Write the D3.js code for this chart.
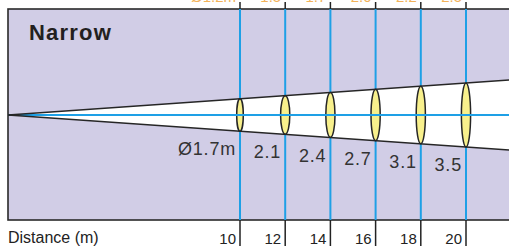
<!DOCTYPE html>
<html>
<head>
<meta charset="utf-8">
<script src="https://cdn.jsdelivr.net/npm/d3@7"></script>
<style>
  html, body { margin: 0; padding: 0; background: #fff; }
  svg { display: block; font-family: "Liberation Sans", Arial, sans-serif; }
</style>
</head>
<body>
<div id="chart"></div>
<script>
// distances (m) where the beam is measured, and the spot diameter there
var distances = [10, 12, 14, 16, 18, 20];
var diameters = ["\u00d81.7m", "2.1", "2.4", "2.7", "3.1", "3.5"];
// labels of the chart above, only their lower edge is visible
var topLabels = ["\u00d81.2m", "1.5", "1.7", "2.0", "2.2", "2.5"];
var title = "Narrow";
var axisTitle = "Distance (m)";

var W = 509, H = 246;
var box = {left: 8, top: 9, bottom: 220};
var cy = 115;          // beam axis
var spread = 35 / 501; // beam half width per px of run

var svg = d3.select("#chart")
    .append("svg")
    .attr("width", W)
    .attr("height", H);

// distance scale
var x = d3.scaleLinear()
    .domain([10, 20])
    .range([240, 466]);

function half(px) { return (px - box.left) * spread; }

// background box
svg.append("rect")
    .attr("x", box.left)
    .attr("y", box.top)
    .attr("width", W + 10 - box.left)
    .attr("height", box.bottom - box.top)
    .attr("fill", "#d1cde6")
    .attr("stroke", "#2a2a2a")
    .attr("stroke-width", 1.6);

// beam cone
var xr = W + 5;
svg.append("path")
    .attr("d", "M" + box.left + "," + cy + "L" + xr + "," + (cy - half(xr)) +
        "L" + xr + "," + (cy + half(xr)) + "Z")
    .attr("fill", "#fff");

// vertical distance lines
svg.selectAll(".vline")
    .data(distances)
    .enter().append("line")
    .attr("x1", d => x(d)).attr("x2", d => x(d))
    .attr("y1", box.top).attr("y2", box.bottom)
    .attr("stroke", "#1ea0e6")
    .attr("stroke-width", 2);

// ticks above and below the box
svg.selectAll(".tickTop")
    .data(distances)
    .enter().append("line")
    .attr("x1", d => x(d)).attr("x2", d => x(d))
    .attr("y1", 2).attr("y2", box.top)
    .attr("stroke", "#222")
    .attr("stroke-width", 1.5);
svg.selectAll(".tickBot")
    .data(distances)
    .enter().append("line")
    .attr("x1", d => x(d)).attr("x2", d => x(d))
    .attr("y1", box.bottom).attr("y2", H)
    .attr("stroke", "#222")
    .attr("stroke-width", 1.5);

// lenses
svg.selectAll(".lens")
    .data(distances)
    .enter().append("ellipse")
    .attr("cx", d => x(d))
    .attr("cy", cy)
    .attr("rx", (d, i) => i == 0 ? 3.3 : 4.6)
    .attr("ry", d => half(x(d)))
    .attr("fill", "#f8f08c")
    .attr("stroke", "#262626")
    .attr("stroke-width", 1.5);

// beam axis
svg.append("line")
    .attr("x1", box.left).attr("x2", W)
    .attr("y1", cy).attr("y2", cy)
    .attr("stroke", "#1ea0e6")
    .attr("stroke-width", 2);

// beam edges
[-1, 1].forEach(function(s) {
    svg.append("line")
        .attr("x1", box.left).attr("y1", cy)
        .attr("x2", xr).attr("y2", cy + s * half(xr))
        .attr("stroke", "#262626")
        .attr("stroke-width", 1.6);
});

// diameter labels
svg.selectAll(".dia")
    .data(diameters)
    .enter().append("text")
    .attr("x", (d, i) => x(distances[i]) - 4)
    .attr("y", (d, i) => cy + half(x(distances[i])) + 24)
    .attr("text-anchor", "end")
    .attr("font-size", 18)
    .attr("letter-spacing", 0.8)
    .attr("fill", "#333")
    .text(d => d);

// cut labels from the chart above
svg.selectAll(".top")
    .data(topLabels)
    .enter().append("text")
    .attr("x", (d, i) => x(distances[i]) - 4)
    .attr("y", 1.5)
    .attr("text-anchor", "end")
    .attr("font-size", 15)
    .attr("fill", "#f3b35a")
    .text(d => d);

// tick labels
svg.selectAll(".tl")
    .data(distances)
    .enter().append("text")
    .attr("x", d => x(d) - 4)
    .attr("y", 244)
    .attr("text-anchor", "end")
    .attr("font-size", 15)
    .attr("fill", "#222")
    .text(d => d);

svg.append("text")
    .attr("x", box.left)
    .attr("y", 243)
    .attr("font-size", 16)
    .attr("fill", "#222")
    .text(axisTitle);

svg.append("text")
    .attr("x", 29)
    .attr("y", 40)
    .attr("font-size", 22)
    .attr("font-weight", "bold")
    .attr("letter-spacing", 1.2)
    .attr("fill", "#231f20")
    .text(title);
</script>
</body>
</html>
